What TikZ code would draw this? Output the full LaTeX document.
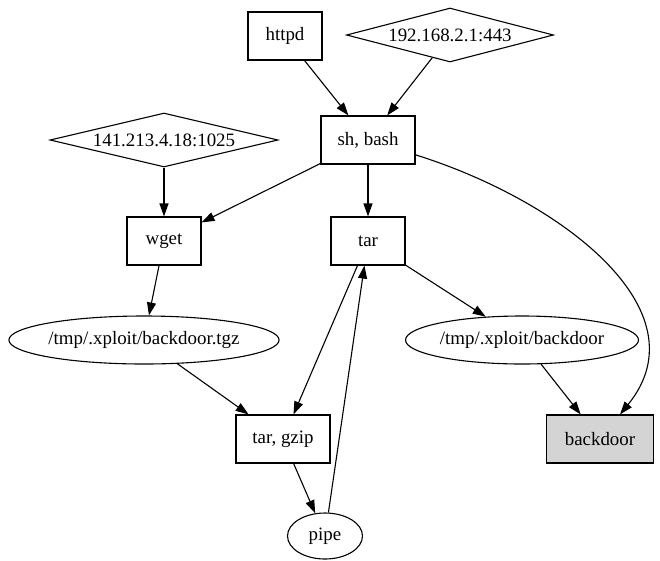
\documentclass[tikz,border=0pt]{standalone}
\usepackage{fontspec}
\setmainfont{Liberation Serif}
\usetikzlibrary{shapes.geometric,arrows.meta}
\begin{document}
\begin{tikzpicture}[x=1pt,y=-1pt,
  every node/.style={font=\fontsize{18.9}{22}\selectfont, line width=1.1pt, draw, inner sep=0pt},
  proc/.style={rectangle, minimum height=48},
  host/.style={diamond, aspect=4, minimum height=54},
  file/.style={ellipse, minimum height=48},
  edge/.style={line width=1.1pt, -{Triangle[length=13pt,width=9pt]}}]
\useasboundingbox (0,0) rectangle (660,560);
% processes, endpoints and files
\node[proc, minimum width=74] (httpd) at (285,36) {httpd};
\node[host, minimum width=207] (ipa) at (450,35) {192.168.2.1:443};
\node[proc, minimum width=94] (sh) at (368,140) {sh, bash};
\node[host, minimum width=228] (ipb) at (164,140) {141.213.4.18:1025};
\node[proc, minimum width=74] (wget) at (164,241) {wget};
\node[proc, minimum width=74] (tar) at (368,241) {tar};
\node[file, minimum width=265] (tgz) at (144,340) {/tmp/.xploit/backdoor.tgz};
\node[file, minimum width=233] (bdfile) at (522,340) {/tmp/.xploit/backdoor};
\node[proc, minimum width=94] (targz) at (283,439) {tar, gzip};
\node[proc, minimum width=107, fill=black!17] (bd) at (600,439) {backdoor};
\node[file, minimum width=75, minimum height=46] (pipe) at (325,536) {pipe};
% flows
\draw[edge] (httpd) -- (sh);
\draw[edge] (ipa) -- (sh);
\draw[edge] (ipb) -- (wget);
\draw[edge] (sh) -- (wget);
\draw[edge] (sh) -- (tar);
\draw[edge] (sh) .. controls (560,200) and (705,310) .. (bd);
\draw[edge] (wget) -- (tgz);
\draw[edge] (tgz) -- (targz);
\draw[edge] (tar) -- (targz);
\draw[edge] (tar) -- (bdfile);
\draw[edge] (bdfile) -- (bd);
\draw[edge] (targz) -- (pipe);
\draw[edge] (pipe) -- (tar);
\end{tikzpicture}
\end{document}
